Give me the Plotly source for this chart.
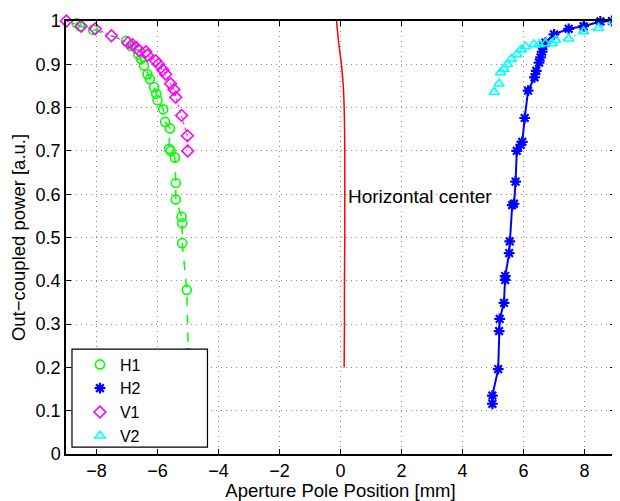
import plotly.graph_objects as go

# ---- data ----
h1_x = [-8.65, -8.54, -8.11, -7.03, -6.87, -6.63, -6.54, -6.44, -6.33, -6.25, -6.11, -6.04, -6.00,
        -5.81, -5.75, -5.59, -5.62, -5.57, -5.43, -5.40, -5.40, -5.21, -5.19, -5.19, -5.04, -4.99]
h1_y = [0.995, 0.988, 0.980, 0.954, 0.942, 0.923, 0.912, 0.897, 0.877, 0.866, 0.847, 0.832, 0.817,
        0.796, 0.767, 0.752, 0.705, 0.700, 0.685, 0.626, 0.588, 0.548, 0.533, 0.487, 0.379, 0.233]

h2_x = [4.98, 4.98, 5.17, 5.20, 5.22, 5.36, 5.40, 5.40, 5.53, 5.55, 5.63, 5.69, 5.74, 5.78, 5.91,
        5.96, 6.04, 6.15, 6.36, 6.42, 6.51, 6.56, 6.61, 6.65, 6.72, 7.00, 7.48, 7.97, 8.52, 8.90]
h2_y = [0.116, 0.135, 0.196, 0.284, 0.312, 0.349, 0.402, 0.411, 0.464, 0.491, 0.575, 0.578, 0.629,
        0.700, 0.714, 0.721, 0.776, 0.839, 0.870, 0.885, 0.904, 0.916, 0.929, 0.942, 0.950, 0.969,
        0.982, 0.988, 0.999, 1.0]

v1_x = [-8.99, -8.50, -8.04, -7.51, -6.97, -6.82, -6.69, -6.60, -6.38, -6.33, -6.06, -5.97, -5.82,
        -5.73, -5.57, -5.46, -5.40, -5.21, -5.02, -5.01]
v1_y = [1.0, 0.988, 0.982, 0.966, 0.950, 0.946, 0.938, 0.931, 0.929, 0.921, 0.908, 0.900, 0.887,
        0.877, 0.855, 0.842, 0.824, 0.782, 0.735, 0.700]

v2_x = [5.04, 5.20, 5.25, 5.36, 5.47, 5.60, 5.78, 5.93, 6.07, 6.34, 6.51, 6.72, 6.94, 7.05, 7.48,
        7.97, 8.46, 8.95]
v2_y = [0.836, 0.855, 0.881, 0.889, 0.900, 0.912, 0.923, 0.934, 0.941, 0.946, 0.946, 0.948, 0.948,
        0.956, 0.959, 0.976, 0.984, 0.999]

center_x = [-0.13, -0.06, 0.03, 0.09, 0.12, 0.14, 0.14, 0.14, 0.13, 0.13, 0.12]
center_y = [1.0, 0.95, 0.90, 0.85, 0.80, 0.70, 0.60, 0.50, 0.40, 0.30, 0.20]

names = ["H1", "H2", "V1", "V2"]
colors = ["#00ff00", "#0000ff", "#ff00ff", "#00ffff"]
symbols = ["circle-open", "asterisk-open", "diamond-open", "triangle-up-open"]
dashes = ["dash", "solid", "dot", "dot"]
line_widths = [1.5, 2, 1, 1]
series = [(h1_x, h1_y), (h2_x, h2_y), (v1_x, v1_y), (v2_x, v2_y)]

FONT = "Liberation Sans, Arial, Helvetica, sans-serif"

fig = go.Figure()

# connecting lines (not in legend)
for (xs, ys), c, d, lw in zip(series, colors, dashes, line_widths):
    fig.add_trace(go.Scatter(x=xs, y=ys, mode="lines", showlegend=False,
                             line=dict(color=c, dash=d, width=lw), hoverinfo="skip"))

fig.add_trace(go.Scatter(x=center_x, y=center_y, mode="lines", showlegend=False,
                         line=dict(color="#ff0000", width=1.5, shape="spline")))

# markers (legend entries)
for (xs, ys), n, c, s in zip(series, names, colors, symbols):
    fig.add_trace(go.Scatter(x=xs, y=ys, mode="markers", name=n, cliponaxis=False,
                             marker=dict(symbol=s, color=c, size=9,
                                         line=dict(color=c, width=1.6 if s != "asterisk-open" else 2.2))))

fig.add_annotation(x=0.18, y=0.594, text="Horizontal center", showarrow=False,
                   xanchor="left", yanchor="middle", font=dict(family=FONT, size=19, color="black"))

# legend frame (white box that hides the data beneath it, as in the reference)
fig.add_shape(type="rect", xref="paper", yref="paper", x0=0.0109, x1=0.2577, y0=0.016, y1=0.242,
              fillcolor="white", line=dict(color="black", width=1.2), layer="above")

axis_common = dict(showline=True, linecolor="black", linewidth=1.5, mirror="ticks",
                   ticks="inside", ticklen=5, tickcolor="black", tickwidth=1,
                   showgrid=True, gridcolor="#8a8a8a", griddash="1px,4px", gridwidth=1,
                   zeroline=False, tickfont=dict(family=FONT, size=18, color="black"),
                   title_font=dict(family=FONT, size=18.5, color="black"))

fig.update_xaxes(range=[-9, 9], dtick=2, tick0=0, title_text="Aperture Pole Position [mm]",
                 title_standoff=4, **axis_common)
fig.update_yaxes(range=[0, 1], dtick=0.1, tick0=0, title_text="Out\u2212coupled power [a.u.]",
                 title_standoff=6, **axis_common)

# the page body has an 8px margin; size the figure so the plot area lands where the reference has it
fig.update_layout(
    width=612, height=493,
    margin=dict(l=58, r=3, t=10, b=45),
    paper_bgcolor="white", plot_bgcolor="white",
    font=dict(family=FONT, size=18, color="black"),
    legend=dict(x=0.0254, y=0.246, xanchor="left", yanchor="top",
                bgcolor="rgba(0,0,0,0)", borderwidth=0,
                font=dict(family=FONT, size=16, color="black"),
                tracegroupgap=0, itemwidth=30),
)

fig.write_html("out.html")
